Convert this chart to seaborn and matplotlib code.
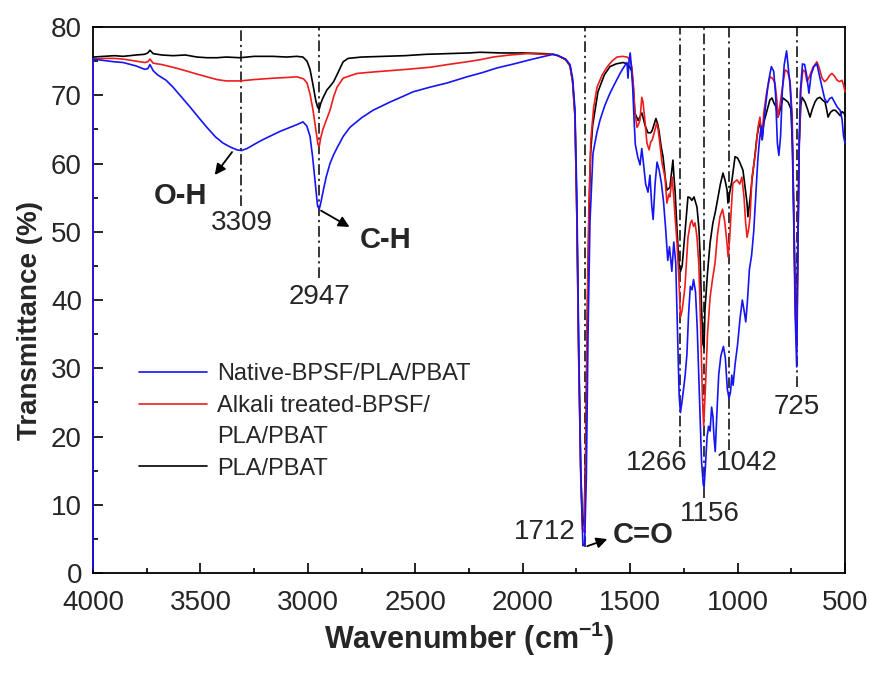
import pandas as pd
import matplotlib
matplotlib.use('Agg')
import matplotlib.pyplot as plt
from matplotlib.lines import Line2D
from matplotlib.ticker import MultipleLocator
import seaborn as sns

# FTIR spectra: (wavenumber cm-1, transmittance %)
native = [
    (4000, 0.5), (4000, 75.3), (3950, 75.1), (3900, 74.9), (3860, 74.8), (3800, 74.3), (3760, 73.8),
    (3745, 73.9), (3735, 74.5), (3720, 73.6), (3700, 73.0), (3660, 72.2), (3628, 71.2), (3590, 69.8),
    (3549, 68.3), (3510, 66.8), (3470, 65.3), (3430, 63.9), (3395, 63.0), (3360, 62.4), (3330, 62.0),
    (3309, 61.9), (3283, 62.2), (3250, 62.8), (3209, 63.5), (3170, 64.1), (3130, 64.7), (3090, 65.2),
    (3051, 65.7), (3023, 66.1), (3005, 65.5), (2990, 64.0), (2978, 61.0), (2967, 57.5), (2955, 53.8),
    (2947, 53.3), (2938, 54.5), (2930, 55.8), (2915, 58.0), (2897, 60.0), (2880, 61.3), (2864, 62.3),
    (2835, 64.0), (2804, 65.3), (2750, 66.7), (2697, 67.8), (2618, 69.0), (2560, 69.8), (2511, 70.5),
    (2430, 71.2), (2352, 71.8), (2300, 72.3), (2260, 72.7), (2190, 73.3), (2120, 74.0), (2040, 74.6),
    (1966, 75.2), (1900, 75.7), (1859, 76.0), (1835, 75.8), (1800, 75.3), (1780, 74.5), (1768, 72.5),
    (1757, 68.0), (1748, 55.0), (1740, 35.0), (1730, 15.0), (1720, 4.0), (1712, 4.2), (1704, 14.0),
    (1696, 35.0), (1687, 51.5), (1673, 61.5), (1655, 64.5), (1640, 66.4), (1618, 68.5), (1594, 70.3),
    (1570, 71.8), (1547, 73.2), (1528, 74.2), (1515, 74.8), (1510, 72.5), (1505, 75.2), (1500, 76.2),
    (1495, 74.5), (1488, 71.0), (1482, 66.5), (1476, 62.8), (1465, 61.0), (1454, 59.8), (1446, 62.2),
    (1438, 60.0), (1428, 57.0), (1417, 55.8), (1408, 58.3), (1400, 54.0), (1393, 51.8), (1384, 57.0),
    (1375, 60.2), (1365, 59.0), (1355, 57.2), (1345, 54.5), (1335, 50.5), (1325, 45.8), (1317, 47.8),
    (1306, 44.2), (1297, 48.5), (1288, 45.5), (1280, 36.0), (1272, 26.0), (1266, 23.5), (1260, 24.8),
    (1252, 26.8), (1244, 29.0), (1236, 32.0), (1228, 38.0), (1220, 42.0), (1212, 41.5), (1205, 43.0),
    (1196, 41.2), (1188, 36.0), (1178, 26.0), (1168, 16.5), (1160, 13.0), (1156, 12.6), (1150, 15.5),
    (1142, 20.0), (1135, 21.5), (1128, 20.8), (1121, 24.3), (1115, 23.0), (1110, 20.0), (1104, 17.8),
    (1097, 23.0), (1088, 29.0), (1078, 31.8), (1066, 33.2), (1057, 31.5), (1048, 27.0), (1040, 25.6),
    (1033, 26.5), (1027, 29.0), (1021, 27.5), (1012, 30.5), (1000, 33.5), (988, 37.5), (978, 40.0),
    (970, 38.5), (962, 36.8), (955, 39.5), (945, 44.5), (935, 46.5), (925, 50.0), (915, 55.5),
    (906, 60.5), (898, 63.5), (890, 65.5), (885, 63.5), (878, 66.0), (868, 69.0), (856, 72.0),
    (843, 74.2), (832, 73.5), (823, 70.0), (815, 63.0), (808, 61.2), (800, 64.0), (792, 70.5),
    (783, 74.5), (772, 76.5), (764, 74.0), (756, 71.5), (748, 67.0), (740, 54.0), (732, 38.0),
    (725, 30.2), (720, 45.0), (714, 62.0), (708, 70.5), (698, 74.6), (688, 74.5), (678, 72.8),
    (668, 70.3), (658, 73.0), (645, 74.2), (631, 74.6), (620, 73.0), (607, 71.2), (595, 69.5),
    (584, 68.9), (572, 69.5), (561, 69.7), (549, 69.0), (537, 68.3), (523, 67.8), (514, 66.5),
    (507, 64.0), (500, 63.0),
]

alkali = [
    (4000, 29.0), (4000, 75.3), (3950, 75.4), (3900, 75.4), (3860, 75.3), (3800, 75.0), (3760, 74.8),
    (3745, 74.9), (3735, 75.3), (3720, 74.7), (3680, 74.5), (3628, 74.1), (3570, 73.6), (3516, 73.1),
    (3470, 72.7), (3423, 72.3), (3380, 72.1), (3316, 72.1), (3250, 72.3), (3162, 72.5), (3100, 72.6),
    (3051, 72.7), (3020, 72.4), (3004, 71.8), (2990, 70.2), (2976, 67.8), (2963, 65.0), (2953, 62.8),
    (2947, 62.5), (2940, 63.8), (2930, 65.0), (2915, 66.3), (2897, 67.8), (2880, 69.8), (2864, 71.2),
    (2836, 72.5), (2800, 72.9), (2771, 73.2), (2700, 73.4), (2618, 73.6), (2540, 73.8), (2432, 74.1),
    (2350, 74.5), (2260, 74.9), (2200, 75.2), (2138, 75.6), (2060, 75.9), (1980, 76.1), (1900, 76.0),
    (1859, 76.0), (1835, 75.8), (1800, 75.2), (1780, 74.3), (1768, 72.0), (1757, 67.0), (1748, 52.0),
    (1740, 32.0), (1730, 14.0), (1722, 6.5), (1714, 6.0), (1706, 18.0), (1700, 38.0), (1692, 54.0),
    (1683, 63.5), (1670, 68.2), (1654, 71.2), (1630, 73.0), (1608, 74.1), (1585, 75.0), (1561, 75.6),
    (1535, 75.7), (1515, 75.6), (1503, 75.3), (1492, 74.1), (1485, 71.5), (1478, 67.4), (1468, 65.3),
    (1460, 65.8), (1454, 66.4), (1446, 69.7), (1440, 69.0), (1431, 66.2), (1422, 63.0), (1412, 62.0),
    (1404, 63.2), (1398, 63.4), (1388, 64.5), (1377, 65.9), (1370, 65.0), (1362, 63.0), (1352, 60.1),
    (1338, 58.0), (1329, 54.2), (1320, 55.5), (1315, 55.1), (1305, 58.0), (1298, 55.5), (1291, 52.2),
    (1282, 48.4), (1273, 42.9), (1266, 37.5), (1258, 38.5), (1245, 41.9), (1231, 49.2), (1220, 51.2),
    (1213, 51.7), (1205, 50.8), (1198, 51.3), (1189, 49.2), (1180, 45.0), (1172, 36.0), (1164, 26.0),
    (1158, 21.5), (1150, 27.0), (1140, 35.0), (1128, 40.4), (1117, 43.0), (1105, 45.4), (1094, 49.5),
    (1082, 52.2), (1070, 53.3), (1060, 51.5), (1049, 48.2), (1044, 46.3), (1037, 49.0), (1030, 53.0),
    (1022, 57.1), (1010, 57.4), (1003, 57.6), (990, 57.0), (980, 58.0), (970, 55.0), (963, 51.5),
    (956, 49.2), (948, 50.5), (942, 52.2), (933, 58.0), (919, 61.0), (905, 65.3), (896, 66.8),
    (887, 63.5), (878, 67.5), (863, 70.8), (849, 72.7), (838, 72.5), (826, 71.8), (818, 69.5),
    (812, 66.8), (803, 68.5), (793, 70.8), (779, 73.7), (768, 73.5), (756, 72.2), (746, 67.0),
    (738, 52.0), (731, 38.0), (725, 33.0), (720, 46.0), (713, 63.0), (705, 71.0), (696, 73.7),
    (686, 73.5), (677, 72.0), (665, 72.8), (649, 74.1), (631, 74.9), (620, 74.0), (607, 72.5),
    (595, 72.0), (584, 72.3), (572, 72.9), (561, 73.2), (549, 72.8), (537, 72.2), (525, 72.0),
    (514, 72.2), (507, 71.5), (500, 70.5),
]

pla = [
    (4000, 75.6), (3950, 75.7), (3900, 75.8), (3860, 75.7), (3800, 75.9), (3760, 76.0), (3745, 76.2),
    (3735, 76.6), (3720, 76.1), (3680, 75.9), (3628, 75.8), (3570, 75.9), (3516, 75.6), (3470, 75.5),
    (3423, 75.5), (3380, 75.6), (3316, 75.5), (3250, 75.7), (3162, 75.7), (3100, 75.6), (3051, 75.7),
    (3023, 75.6), (3004, 75.0), (2990, 73.8), (2976, 71.5), (2963, 69.2), (2954, 68.2), (2947, 68.0),
    (2940, 68.8), (2930, 69.6), (2911, 70.8), (2897, 71.3), (2880, 72.0), (2860, 73.3), (2836, 74.9),
    (2813, 75.4), (2750, 75.6), (2650, 75.7), (2550, 75.8), (2450, 76.0), (2352, 76.1), (2250, 76.2),
    (2199, 76.3), (2100, 76.2), (2000, 76.2), (1900, 76.1), (1859, 76.0), (1835, 75.8), (1800, 75.2),
    (1780, 74.3), (1768, 72.0), (1757, 67.0), (1748, 52.0), (1740, 33.0), (1730, 15.0), (1722, 7.5),
    (1715, 7.0), (1707, 18.0), (1700, 36.0), (1692, 52.0), (1684, 61.5), (1675, 65.5), (1650, 70.5),
    (1620, 73.0), (1594, 74.2), (1565, 74.6), (1533, 74.8), (1515, 74.6), (1503, 74.2), (1492, 73.5),
    (1485, 71.0), (1478, 67.4), (1463, 66.3), (1452, 67.0), (1445, 67.4), (1431, 65.6), (1417, 64.5),
    (1405, 64.5), (1398, 64.8), (1388, 65.8), (1380, 66.6), (1372, 65.8), (1366, 64.8), (1356, 62.5),
    (1347, 61.0), (1337, 58.0), (1329, 56.1), (1315, 56.5), (1308, 58.5), (1301, 60.5), (1296, 58.0),
    (1291, 56.0), (1282, 50.3), (1273, 45.4), (1266, 44.2), (1258, 45.0), (1245, 49.8), (1231, 55.1),
    (1222, 55.0), (1213, 54.6), (1203, 55.1), (1189, 53.6), (1180, 50.5), (1175, 46.9), (1168, 39.0),
    (1161, 33.5), (1156, 33.0), (1152, 38.5), (1140, 44.0), (1128, 48.4), (1115, 51.3), (1103, 53.0),
    (1091, 55.1), (1080, 57.0), (1068, 58.6), (1058, 57.5), (1049, 56.1), (1045, 54.2), (1038, 55.5),
    (1026, 57.6), (1018, 59.5), (1012, 61.0), (1000, 60.8), (989, 60.1), (975, 59.0), (965, 56.5),
    (956, 54.2), (952, 52.2), (943, 54.5), (933, 57.6), (920, 61.0), (910, 63.9), (896, 66.4),
    (887, 63.5), (878, 66.0), (863, 67.8), (850, 69.3), (840, 69.6), (830, 68.8), (821, 68.3),
    (812, 66.8), (803, 67.8), (789, 69.6), (777, 69.3), (765, 69.0), (752, 68.0), (744, 62.0),
    (737, 50.0), (731, 40.0), (725, 36.0), (720, 48.0), (713, 63.0), (706, 68.5), (700, 69.7),
    (686, 69.0), (675, 68.0), (663, 66.8), (652, 68.0), (640, 69.0), (630, 69.5), (617, 69.7),
    (605, 69.3), (593, 69.0), (586, 68.0), (579, 66.8), (568, 67.5), (556, 67.8), (545, 67.8),
    (533, 67.4), (522, 67.0), (514, 67.6), (505, 67.4), (500, 67.0),
]

sample_names = ['Native-BPSF/PLA/PBAT', 'Alkali treated-BPSF/PLA/PBAT', 'PLA/PBAT']
sample_colors = ['#1414f5', '#ee1c1c', 'black']

# marked bands and where their guide lines stop
peak_wn = [3309, 2947, 1712, 1266, 1156, 1042, 725]
peak_line_end = [53.8, 43.2, 3.8, 18.5, 11.0, 18.0, 27.3]

frames = []
for name, pts in zip(sample_names, [native, alkali, pla]):
    d = pd.DataFrame(pts, columns=['wavenumber', 'transmittance'])
    d['sample'] = name
    frames.append(d)
df = pd.concat(frames, ignore_index=True)

sns.set_style('ticks')
plt.rcParams['font.family'] = ['Liberation Sans', 'DejaVu Sans']
plt.rcParams['mathtext.fontset'] = 'custom'
plt.rcParams['mathtext.rm'] = 'Liberation Sans'
plt.rcParams['mathtext.bf'] = 'Liberation Sans:bold'

fig = plt.figure(figsize=(8.7, 6.77), dpi=100)
ax = fig.add_axes([0.1069, 0.1536, 0.8644, 0.8065])

# guide lines for the bands
ax.vlines(peak_wn, peak_line_end, 80, colors='black', linestyles=(0, (7, 2.5, 1.5, 2.5)),
          lw=1.1, zorder=1.5)

# draw black first so the blue ends up on top
for i in [2, 1, 0]:
    sns.lineplot(data=df[df['sample'] == sample_names[i]], x='wavenumber', y='transmittance',
                 color=sample_colors[i], lw=1.2, estimator=None, sort=False, ax=ax,
                 zorder=3 + (2 - i) * 0.1, clip_on=False)

ax.set_xlim(4000, 500)
ax.set_ylim(0, 80)
ax.xaxis.set_major_locator(MultipleLocator(500))
ax.xaxis.set_minor_locator(MultipleLocator(250))
ax.yaxis.set_major_locator(MultipleLocator(10))
ax.yaxis.set_minor_locator(MultipleLocator(5))
ax.tick_params(which='both', direction='in', top=False, right=False, width=1.2, color='black')
ax.tick_params(which='major', length=7)
ax.tick_params(which='minor', length=3.5)
ax.tick_params(axis='x', which='major', labelsize=20, pad=12)
ax.tick_params(axis='y', which='major', labelsize=20, pad=8)
for s in ax.spines.values():
    s.set_linewidth(1.3)
    s.set_color('black')

ax.set_xlabel(r'Wavenumber (cm$^{\mathbf{-1}}$)', fontsize=22, fontweight='bold')
ax.set_ylabel('Transmittance (%)', fontsize=20, fontweight='bold')
ax.xaxis.set_label_coords(0.5, -0.086)
ax.yaxis.set_label_coords(-0.066, 0.463)

# band labels
num_fs = 20
ax.text(3309, 51.3, '3309', ha='center', va='center', fontsize=num_fs)
ax.text(2947, 40.4, '2947', ha='center', va='center', fontsize=num_fs)
ax.text(1755, 6.0, '1712', ha='right', va='center', fontsize=num_fs)
ax.text(1375, 16.1, '1266', ha='center', va='center', fontsize=num_fs)
ax.text(1128, 8.6, '1156', ha='center', va='center', fontsize=num_fs)
ax.text(956, 16.1, '1042', ha='center', va='center', fontsize=num_fs)
ax.text(724, 24.3, '725', ha='center', va='center', fontsize=num_fs)

arrow = dict(arrowstyle='-|>', color='black', lw=1.3, mutation_scale=16)
ax.annotate('', xy=(3441, 58.0), xytext=(3345, 62.0), arrowprops=arrow)
ax.text(3595, 55.2, 'O-H', ha='center', va='center', fontsize=21, fontweight='bold')
ax.annotate('', xy=(2795, 50.5), xytext=(2950, 53.3), arrowprops=arrow)
ax.text(2757, 48.8, 'C-H', ha='left', va='center', fontsize=21, fontweight='bold')
ax.annotate('', xy=(1594, 5.1), xytext=(1712, 3.8), arrowprops=arrow)
ax.text(1580, 5.6, 'C=O', ha='left', va='center', fontsize=21, fontweight='bold')

# legend: second entry wraps onto its own row with no line
handles = [Line2D([], [], color=sample_colors[0], lw=1.2),
           Line2D([], [], color=sample_colors[1], lw=1.2),
           Line2D([], [], color='none'),
           Line2D([], [], color=sample_colors[2], lw=1.2)]
labels = ['Native-BPSF/PLA/PBAT', 'Alkali treated-BPSF/', 'PLA/PBAT', 'PLA/PBAT']
ax.legend(handles, labels, loc='upper left', bbox_to_anchor=(0.061, 0.384), frameon=False,
          fontsize=17, handlelength=2.9, handletextpad=0.4, labelspacing=0.4,
          borderpad=0, borderaxespad=0)

fig.savefig('out.png', dpi=100)
